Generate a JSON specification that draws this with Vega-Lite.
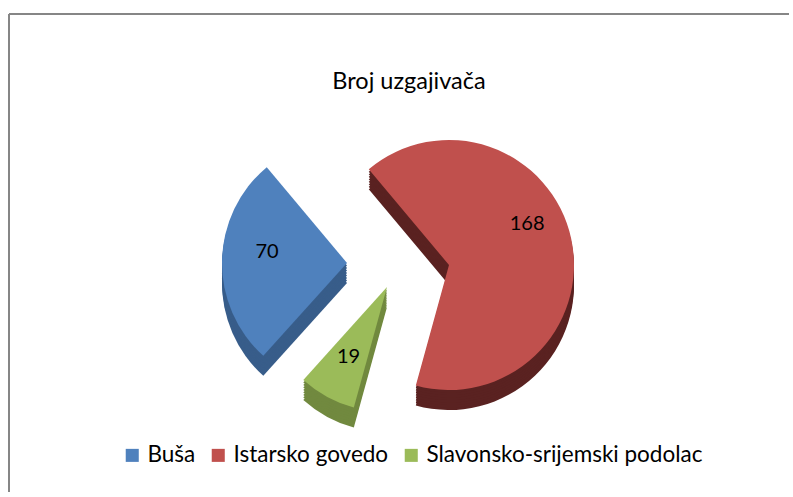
{
  "$schema": "https://vega.github.io/schema/vega-lite/v6.json",
  "width": 780,
  "height": 478,
  "padding": {"left": 8, "top": 13, "right": 0, "bottom": 0},
  "autosize": {"type": "pad"},
  "background": "white",
  "view": {"stroke": null},
  "config": {
    "font": "Lato",
    "view": {"stroke": null}
  },
  "title": {"text": "Broj uzgajivača", "font": "Lato", "fontSize": 23.5, "fontWeight": "normal", "color": "#000000", "anchor": "middle", "offset": -80, "dx": 10},
  "data": {"values": [
    {"breed": "Buša", "value": 70},
    {"breed": "Istarsko govedo", "value": 168},
    {"breed": "Slavonsko-srijemski podolac", "value": 19}
  ]},
  "layer": [
    {"mark": {"type": "rule", "color": "#868686", "strokeWidth": 2}, "encoding": {"x": {"value": 0}}},
    {"mark": {"type": "rule", "color": "#868686", "strokeWidth": 2}, "encoding": {"y": {"value": 0}}},
    {
      "encoding": {
        "theta": {"field": "value", "type": "quantitative", "stack": true, "scale": {"range": [3.875, 10.158]}},
        "detail": {"field": "breed", "type": "nominal"},
        "order": {"field": "breed", "sort": "ascending"}
      },
      "layer": [
        {"mark": {"type": "arc", "radius": 125, "xOffset": {"expr": "datum.breed == 'Buša' ? -52 : datum.breed == 'Istarsko govedo' ? 50 : -12"}, "yOffset": {"expr": "(datum.breed == 'Buša' ? 10 : datum.breed == 'Istarsko govedo' ? 12 : 34) + 20"}, "fill": {"expr": "datum.breed == 'Buša' ? '#385D8A' : datum.breed == 'Istarsko govedo' ? '#5A2221' : '#71893F'"}}},
        {"mark": {"type": "arc", "radius": 125, "xOffset": {"expr": "datum.breed == 'Buša' ? -52 : datum.breed == 'Istarsko govedo' ? 50 : -12"}, "yOffset": {"expr": "(datum.breed == 'Buša' ? 10 : datum.breed == 'Istarsko govedo' ? 12 : 34) + 17.5"}, "fill": {"expr": "datum.breed == 'Buša' ? '#385D8A' : datum.breed == 'Istarsko govedo' ? '#5A2221' : '#71893F'"}}},
        {"mark": {"type": "arc", "radius": 125, "xOffset": {"expr": "datum.breed == 'Buša' ? -52 : datum.breed == 'Istarsko govedo' ? 50 : -12"}, "yOffset": {"expr": "(datum.breed == 'Buša' ? 10 : datum.breed == 'Istarsko govedo' ? 12 : 34) + 15"}, "fill": {"expr": "datum.breed == 'Buša' ? '#385D8A' : datum.breed == 'Istarsko govedo' ? '#5A2221' : '#71893F'"}}},
        {"mark": {"type": "arc", "radius": 125, "xOffset": {"expr": "datum.breed == 'Buša' ? -52 : datum.breed == 'Istarsko govedo' ? 50 : -12"}, "yOffset": {"expr": "(datum.breed == 'Buša' ? 10 : datum.breed == 'Istarsko govedo' ? 12 : 34) + 12.5"}, "fill": {"expr": "datum.breed == 'Buša' ? '#385D8A' : datum.breed == 'Istarsko govedo' ? '#5A2221' : '#71893F'"}}},
        {"mark": {"type": "arc", "radius": 125, "xOffset": {"expr": "datum.breed == 'Buša' ? -52 : datum.breed == 'Istarsko govedo' ? 50 : -12"}, "yOffset": {"expr": "(datum.breed == 'Buša' ? 10 : datum.breed == 'Istarsko govedo' ? 12 : 34) + 10"}, "fill": {"expr": "datum.breed == 'Buša' ? '#385D8A' : datum.breed == 'Istarsko govedo' ? '#5A2221' : '#71893F'"}}},
        {"mark": {"type": "arc", "radius": 125, "xOffset": {"expr": "datum.breed == 'Buša' ? -52 : datum.breed == 'Istarsko govedo' ? 50 : -12"}, "yOffset": {"expr": "(datum.breed == 'Buša' ? 10 : datum.breed == 'Istarsko govedo' ? 12 : 34) + 7.5"}, "fill": {"expr": "datum.breed == 'Buša' ? '#385D8A' : datum.breed == 'Istarsko govedo' ? '#5A2221' : '#71893F'"}}},
        {"mark": {"type": "arc", "radius": 125, "xOffset": {"expr": "datum.breed == 'Buša' ? -52 : datum.breed == 'Istarsko govedo' ? 50 : -12"}, "yOffset": {"expr": "(datum.breed == 'Buša' ? 10 : datum.breed == 'Istarsko govedo' ? 12 : 34) + 5"}, "fill": {"expr": "datum.breed == 'Buša' ? '#385D8A' : datum.breed == 'Istarsko govedo' ? '#5A2221' : '#71893F'"}}},
        {"mark": {"type": "arc", "radius": 125, "xOffset": {"expr": "datum.breed == 'Buša' ? -52 : datum.breed == 'Istarsko govedo' ? 50 : -12"}, "yOffset": {"expr": "(datum.breed == 'Buša' ? 10 : datum.breed == 'Istarsko govedo' ? 12 : 34) + 2.5"}, "fill": {"expr": "datum.breed == 'Buša' ? '#385D8A' : datum.breed == 'Istarsko govedo' ? '#5A2221' : '#71893F'"}}},
        {"mark": {"type": "arc", "radius": 125, "xOffset": {"expr": "datum.breed == 'Buša' ? -52 : datum.breed == 'Istarsko govedo' ? 50 : -12"}, "yOffset": {"expr": "datum.breed == 'Buša' ? 10 : datum.breed == 'Istarsko govedo' ? 12 : 34"}},
         "encoding": {"color": {"field": "breed", "type": "nominal", "scale": {"domain": ["Buša", "Istarsko govedo", "Slavonsko-srijemski podolac"], "range": ["#4F81BD", "#C0504D", "#9BBB59"]}, "legend": {"title": null, "orient": "none", "direction": "horizontal", "legendX": 112, "legendY": 430, "symbolType": "square", "symbolSize": 170, "symbolStrokeWidth": 0, "labelFont": "Lato", "labelFontSize": 22.5, "labelColor": "#000000", "labelLimit": 500, "columnPadding": 11}}}},
        {"mark": {"type": "text", "radius": 80, "font": "Lato", "fontSize": 20, "color": "#000000", "xOffset": {"expr": "datum.breed == 'Buša' ? -52 : datum.breed == 'Istarsko govedo' ? 50 : -12"}, "yOffset": {"expr": "datum.breed == 'Buša' ? 0 : datum.breed == 'Istarsko govedo' ? -12 : 34"}},
         "encoding": {"text": {"field": "value", "type": "quantitative"}}}
      ]
    }
  ]
}
